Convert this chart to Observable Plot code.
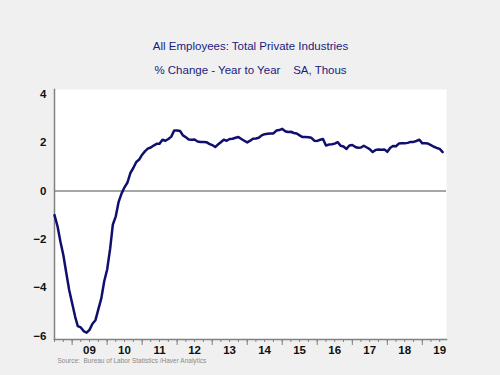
<!DOCTYPE html>
<html>
<head>
<meta charset="utf-8">
<script src="https://cdn.jsdelivr.net/npm/d3@7"></script>
<script src="https://cdn.jsdelivr.net/npm/@observablehq/plot@0.6"></script>
<style>
  html, body { margin: 0; padding: 0; background: #f0f0f0; }
  #chart svg { display: block; }
</style>
</head>
<body>
<div id="chart"></div>
<script>
const title = "All Employees: Total Private Industries";
const subtitle = "% Change - Year to Year    SA, Thous";
const source = "Source:  Bureau of Labor Statistics /Haver Analytics";

// Monthly values starting July 2008 (% change, year to year)
const firstMonth = "2008-07-01";
const values = [
  -1.0, -1.45, -2.1, -2.65, -3.4, -4.1, -4.65, -5.2, -5.6, -5.65,
  -5.8, -5.87, -5.75, -5.5, -5.35, -4.9, -4.45, -3.75, -3.25, -2.4,
  -1.4, -1.05, -0.45, -0.1, 0.15, 0.35, 0.75, 0.95, 1.2, 1.3,
  1.5, 1.65, 1.75, 1.8, 1.88, 1.95, 1.95, 2.12, 2.08, 2.15,
  2.25, 2.5, 2.5, 2.48, 2.3, 2.22, 2.13, 2.12, 2.13, 2.05,
  2.03, 2.03, 2.02, 1.95, 1.9, 1.82, 1.92, 2.02, 2.12, 2.08,
  2.15, 2.16, 2.2, 2.23, 2.15, 2.08, 2.01, 2.08, 2.16, 2.17,
  2.2, 2.3, 2.35, 2.37, 2.38, 2.38, 2.5, 2.52, 2.57, 2.47,
  2.44, 2.45, 2.4, 2.38, 2.3, 2.23, 2.23, 2.22, 2.2, 2.08,
  2.07, 2.12, 2.15, 1.88, 1.92, 1.93, 1.96, 2.02, 1.87, 1.84,
  1.74, 1.88, 1.9, 1.82, 1.79, 1.8, 1.87, 1.8, 1.73, 1.61,
  1.7, 1.72, 1.71, 1.72, 1.62, 1.79, 1.86, 1.85, 1.96, 1.97,
  1.97, 1.99, 2.03, 2.03, 2.07, 2.12, 1.97, 1.97, 1.96, 1.9,
  1.83, 1.78, 1.74, 1.61
];

const years = [2009, 2010, 2011, 2012, 2013, 2014, 2015, 2016, 2017, 2018, 2019];
const yearLabels = ["09", "10", "11", "12", "13", "14", "15", "16", "17", "18", "19"];
const yTicks = [-6, -4, -2, 0, 2, 4];

const xDomain = [new Date("2008-07-01"), new Date("2019-09-10")];
const yDomain = [-6.15, 4.2];

const start = new Date(firstMonth);
const data = values.map((v, i) => ({date: d3.utcMonth.offset(start, i), value: v}));

const yearStarts = years.map(y => new Date(Date.UTC(y, 0, 1)));
const labelDates = years.map(y => new Date(Date.UTC(y, 6, 1)));
const quarterTicks = d3.utcMonth.every(3).range(xDomain[0], xDomain[1]);
const labelData = years.map((y, i) => ({date: labelDates[i], label: yearLabels[i]}));

const font = "'Liberation Sans', Arial, sans-serif";
const navy = "#1b1b7e";

const chart = Plot.plot({
  width: 500,
  height: 375,
  marginLeft: 54,
  marginRight: 54,
  marginTop: 89,
  marginBottom: 36,
  style: {background: "#f0f0f0", fontFamily: font, overflow: "visible"},
  x: {type: "utc", domain: xDomain, label: null},
  y: {domain: yDomain, label: null},
  marks: [
    Plot.frame({fill: "white", stroke: null}),
    Plot.ruleY([0], {stroke: "#a6a6a6", strokeWidth: 2}),
    Plot.axisX({ticks: quarterTicks, tickSize: 3, tickFormat: () => "", stroke: "#808080", label: null}),
    Plot.axisX({ticks: yearStarts, tickSize: 6, tickFormat: () => "", stroke: "#808080", label: null}),
    Plot.text(labelData, {x: "date", text: "label", frameAnchor: "bottom", dy: 14, fontSize: 11.5, fill: "#111", fontWeight: "bold"}),
    Plot.axisY({ticks: yTicks, tickSize: 0, tickPadding: 8, fontSize: 11.5, fontWeight: "bold", color: "#111", label: null}),
    Plot.frame({anchor: "left", stroke: "#808080", strokeWidth: 1.5}),
    Plot.frame({anchor: "bottom", stroke: "#808080", strokeWidth: 1.5}),
    Plot.line(data, {x: "date", y: "value", stroke: "#0f0f6e", strokeWidth: 2.5, curve: "linear"}),
    Plot.text([title], {frameAnchor: "top", dy: -48, fontSize: 11.5, fill: navy}),
    Plot.text([subtitle], {frameAnchor: "top", dy: -24, fontSize: 11.5, fill: navy, style: "white-space: pre"}),
    Plot.text([source], {frameAnchor: "bottom-left", dx: 3, dy: 23, fontSize: 6.5, fill: "#8a8a8a", textAnchor: "start"})
  ]
});
document.getElementById("chart").append(chart);
</script>
</body>
</html>
